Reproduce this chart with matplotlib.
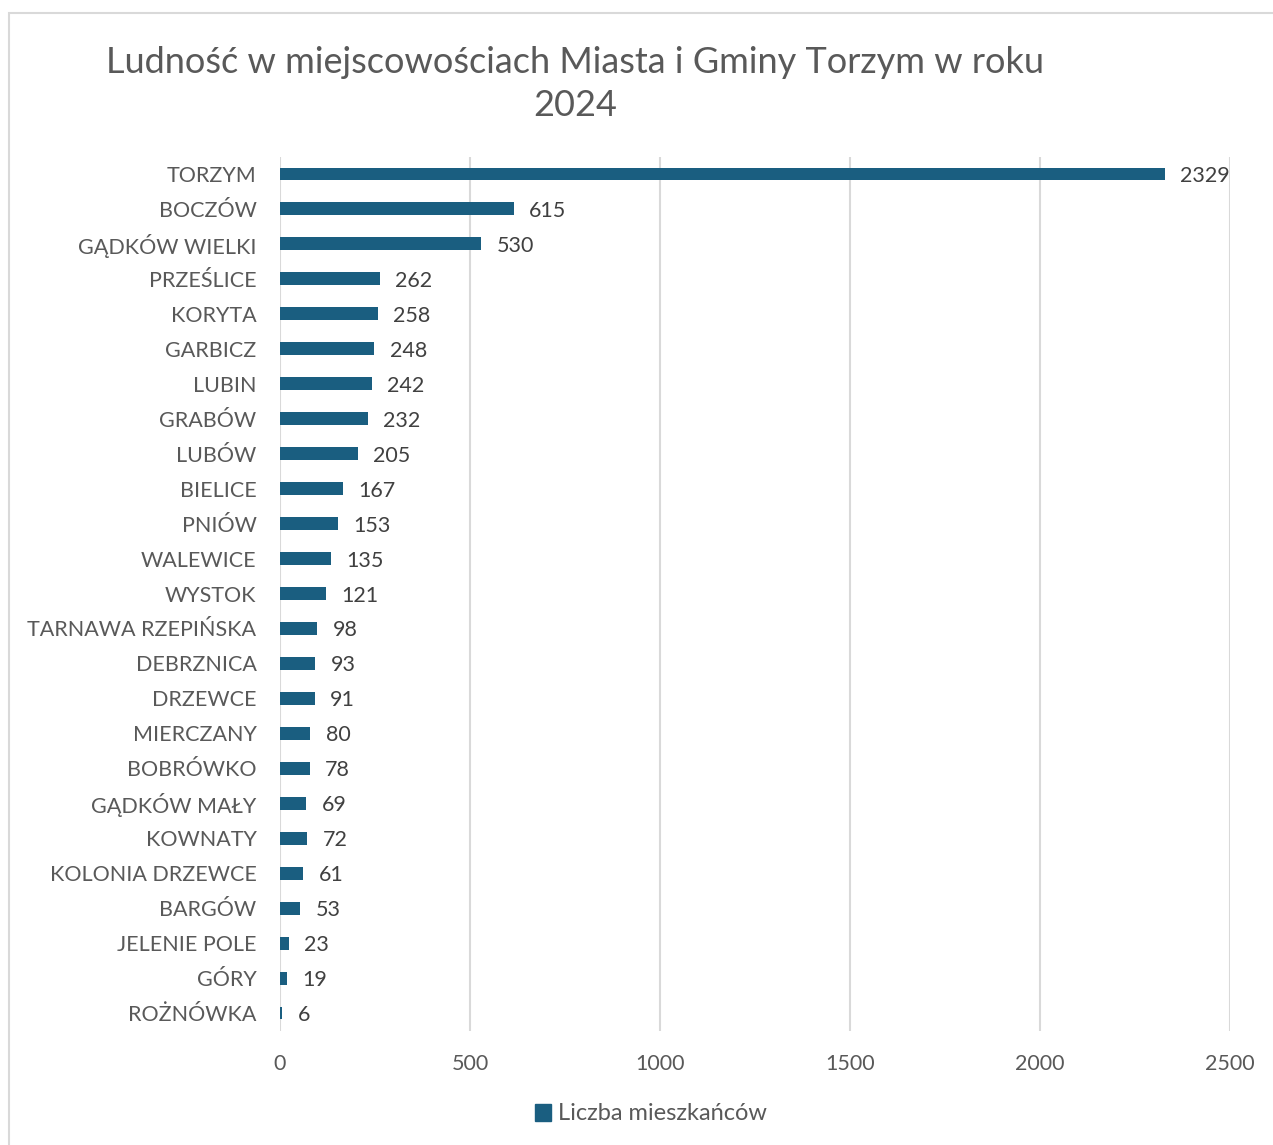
import matplotlib.pyplot as plt
from matplotlib.patches import Rectangle
from matplotlib.patches import Patch

plt.rcParams['font.family'] = ['Lato', 'DejaVu Sans']

# dane
miejscowosci = ['TORZYM', 'BOCZÓW', 'GĄDKÓW WIELKI', 'PRZEŚLICE', 'KORYTA', 'GARBICZ',
                'LUBIN', 'GRABÓW', 'LUBÓW', 'BIELICE', 'PNIÓW', 'WALEWICE', 'WYSTOK',
                'TARNAWA RZEPIŃSKA', 'DEBRZNICA', 'DRZEWCE', 'MIERCZANY', 'BOBRÓWKO',
                'GĄDKÓW MAŁY', 'KOWNATY', 'KOLONIA DRZEWCE', 'BARGÓW', 'JELENIE POLE',
                'GÓRY', 'ROŻNÓWKA']
mieszkancy = [2329, 615, 530, 262, 258, 248, 242, 232, 205, 167, 153, 135, 121,
              98, 93, 91, 80, 78, 69, 72, 61, 53, 23, 19, 6]
x_ticks = [0, 500, 1000, 1500, 2000, 2500]

kolor = '#1a5e80'
szary = '#595959'

fig = plt.figure(figsize=(12.73, 11.45), dpi=100)

# ramka wykresu
fig.patches.append(Rectangle((9 / 1273, -0.05), 1.2, 1 - 13 / 1145 + 0.05,
                             transform=fig.transFigure, fill=False,
                             edgecolor='#d9d9d9', linewidth=1.5))

ax = fig.add_axes([280 / 1273, 0.1, 950 / 1273, 0.7633])
y = range(len(miejscowosci))
ax.barh(y, mieszkancy, height=0.37, color=kolor, zorder=3)
ax.set_ylim(len(miejscowosci) - 0.5, -0.5)
ax.set_xlim(0, 2500)
ax.set_yticks(list(y))
ax.set_yticklabels(miejscowosci, fontsize=15.5, color=szary)
ax.set_xticks(x_ticks)
ax.set_xticklabels([str(t) for t in x_ticks], fontsize=15.5, color=szary)
ax.tick_params(axis='y', length=0, pad=17)
ax.tick_params(axis='x', length=0, pad=17)
ax.grid(axis='x', color='#d9d9d9', linewidth=1.5, zorder=0)
for s in ax.spines.values():
    s.set_visible(False)

for i, v in enumerate(mieszkancy):
    ax.annotate(str(v), (v, i), xytext=(11, 0), textcoords='offset points',
                va='center_baseline', ha='left', fontsize=15.5, color='#404040')

fig.text(575 / 1273, 1 - 84 / 1145,
         'Ludność w miejscowościach Miasta i Gminy Torzym w roku\n2024',
         ha='center', va='center', fontsize=26, color=szary, linespacing=1.38)

fig.legend(handles=[Patch(color=kolor, label='Liczba mieszkańców')],
           loc='center', bbox_to_anchor=(651 / 1273, 1 - 1114 / 1145),
           frameon=False, fontsize=17, handlelength=0.7, handleheight=0.7,
           handletextpad=0.3, labelcolor=szary)

fig.savefig('out.png', dpi=100)
